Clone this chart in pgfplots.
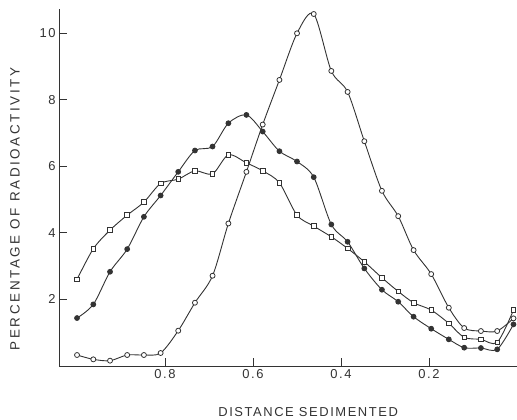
\documentclass[border=0pt]{standalone}
\usepackage{fontspec}
\setmainfont{Liberation Sans}
\newfontfamily\lab[LetterSpace=12]{Liberation Sans}
\newfontfamily\laby[LetterSpace=19]{Liberation Sans}
\usepackage{pgfplots}
\usepackage{pgfplotstable}
\pgfplotsset{compat=1.18}
\usetikzlibrary{calc}
\definecolor{ink}{HTML}{333333}

\pgfplotstableread{
x     open   filled square
1.000 0.33   1.44   2.60
0.963 0.20   1.85   3.52
0.925 0.16   2.83   4.08
0.886 0.33   3.51   4.53
0.848 0.33   4.48   4.92
0.810 0.39   5.12   5.48
0.770 1.06   5.83   5.61
0.732 1.90   6.47   5.86
0.692 2.71   6.59   5.77
0.656 4.28   7.29   6.34
0.615 5.83   7.54   6.10
0.578 7.25   7.04   5.86
0.540 8.59   6.45   5.50
0.500 9.99   6.14   4.53
0.462 10.57  5.67   4.20
0.422 8.86   4.25   3.88
0.385 8.23   3.73   3.53
0.347 6.75   2.93   3.13
0.307 5.26   2.29   2.65
0.270 4.50   1.93   2.24
0.235 3.48   1.48   1.90
0.195 2.76   1.12   1.68
0.155 1.75   0.80   1.28
0.120 1.14   0.55   0.86
0.082 1.05   0.54   0.80
0.045 1.05   0.50   0.71
0.008 1.43   1.25   1.68
}\data

\begin{document}
\begin{tikzpicture}
\begin{axis}[name=ax, width=458bp, height=357bp, scale only axis,
  x dir=reverse, xmin=0, xmax=1.041, ymin=0, ymax=10.72,
  axis x line=bottom, axis y line=left,
  axis line style={-, ink, line width=0.9bp},
  xtick={0.2,0.4,0.6,0.8}, ytick={2,4,6,8,10},
  xticklabels={0.2,0.4,0.6,0.8},
  tick align=inside, major tick length=8bp,
  tick style={ink, line width=0.9bp},
  /pgf/number format/assume math mode=true,
  ticklabel style={font=\lab\fontsize{13}{15}\selectfont, text=ink},
  xlabel={DISTANCE SEDIMENTED}, ylabel={PERCENTAGE OF RADIOACTIVITY},
  xlabel style={at={(axis description cs:0.544,-0.129)}, anchor=center,
    font=\lab\fontsize{13}{15}\selectfont, text=ink},
  ylabel style={at={(axis description cs:-0.096,0.44)}, anchor=center,
    font=\laby\fontsize{13.5}{15}\selectfont, text=ink},
  every axis plot/.append style={ink, line width=0.9bp, smooth, tension=0.5},
  clip=false,
]
\addplot[mark=*, mark size=2.5bp, mark options={fill=white, solid, line width=0.8bp}] table[x=x, y=open] {\data};
\addplot[mark=*, mark size=2.4bp, mark options={fill=ink, solid}] table[x=x, y=filled] {\data};
\addplot[mark=square*, mark size=2.3bp, mark options={fill=white, solid, line width=0.8bp}] table[x=x, y=square] {\data};
\end{axis}
\pgfresetboundingbox
\path[use as bounding box] ($(ax.south west)+(-59bp,-54bp)$) rectangle ($(ax.north east)+(0bp,9bp)$);
\end{tikzpicture}
\end{document}
